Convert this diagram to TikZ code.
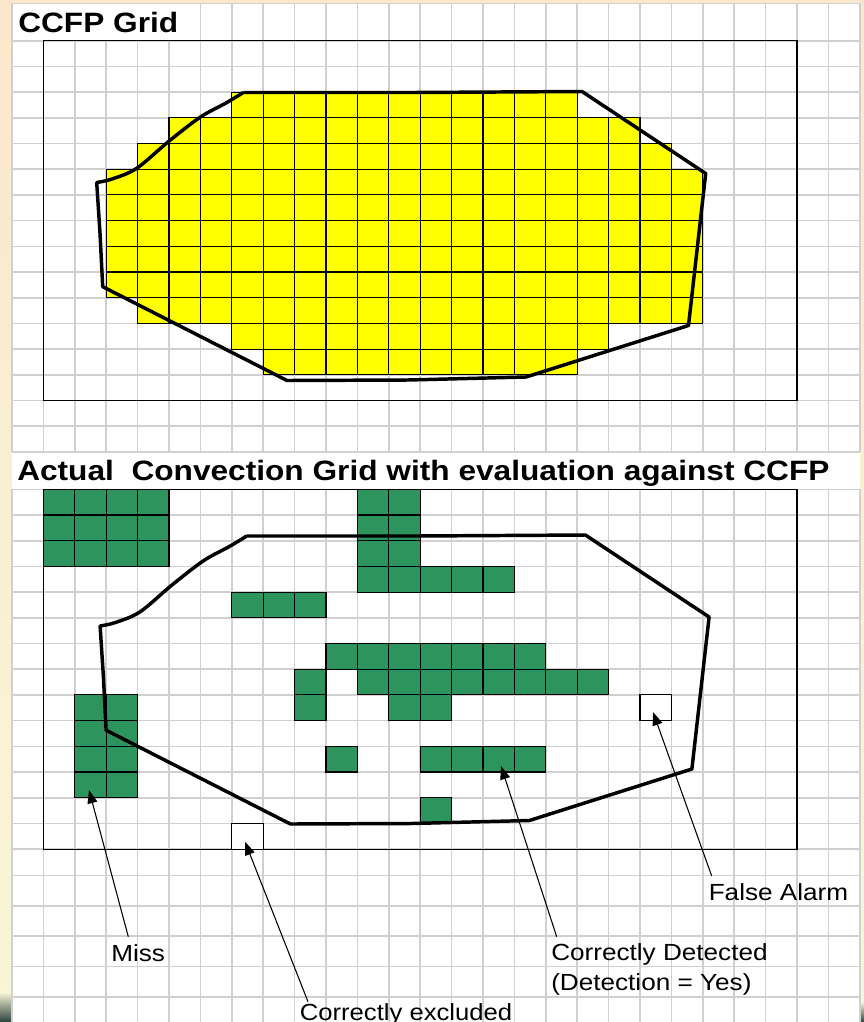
\documentclass[tikz,border=0pt]{standalone}
\usepackage{fontspec}
\setmainfont{Liberation Sans}
\usetikzlibrary{arrows.meta}

\definecolor{gridgray}{RGB}{208,208,208}
\definecolor{cellyellow}{RGB}{255,255,0}
\definecolor{cellgreen}{RGB}{46,148,94}
\definecolor{edgepeach}{RGB}{251,232,204}
\definecolor{edgecream}{RGB}{248,246,214}
\definecolor{edgedark}{RGB}{44,66,62}

% horizontally widened text, as the slide font is set
\newcommand{\widetext}[2][1.12]{\scalebox{#1}[1]{#2}}

\begin{document}
\begin{tikzpicture}[x=0.75pt,y=-0.75pt,
  gridline/.style={draw=gridgray,line width=1.2pt},
  frame/.style={draw=black,line width=1.1pt},
  ycell/.style={fill=cellyellow,draw=black,line width=0.8pt},
  gcell/.style={fill=cellgreen,draw=black,line width=0.8pt},
  wcell/.style={fill=white,draw=black,line width=0.8pt},
  outline/.style={draw=black,line width=2.6pt,line join=round},
  pointer/.style={draw=black,line width=0.8pt,-{Triangle[length=10pt,width=7.5pt]}},
  heading/.style={font=\bfseries\fontsize{21pt}{25pt}\selectfont,inner sep=0pt,anchor=base west},
  lbl/.style={font=\fontsize{17.5pt}{23pt}\selectfont,inner sep=0pt,anchor=base west},
  ccfp/.pic={
    \draw[outline] (243.3,92.5) -- (413,92.5) -- (582,91.5) -- (705.7,173.5)
      -- (688.5,325.5) -- (526,377) -- (408,380) -- (287,380.5)
      -- (102.7,286.7) -- (100,233) -- (96.7,182.5)
      -- plot[smooth,tension=0.55] coordinates {(96.7,182.5) (112,179) (136.7,168.3)
         (168.3,141.7) (200,117.3) (226,103) (243.3,92.5)};
  }
]
\useasboundingbox (0,0) rectangle (864,1022);

% slide background and paper
\shade[top color=edgepeach,bottom color=edgecream] (0,0) rectangle (864,1022);
\shade[top color=edgecream,bottom color=edgedark] (0,992) rectangle (12,1022);
\shade[top color=edgecream,bottom color=edgedark] (860,1002) rectangle (864,1022);
\fill[white] (12,3.3) rectangle (860,1022);

% background grid paper
\foreach \k in {0,...,27}{
  \draw[gridline] (12+31.4*\k,40.7) -- (12+31.4*\k,451.7);
  \draw[gridline] (12+31.4*\k,489.3) -- (12+31.4*\k,1022);
}
\foreach \k in {0,6,7,...,27}{
  \draw[gridline] (12+31.4*\k,3.3) -- (12+31.4*\k,40.7);
}
\foreach \j in {0,...,16}{
  \draw[gridline] (12,40.7+25.7*\j) -- (860,40.7+25.7*\j);
}
\foreach \j in {0,...,14}{
  \draw[gridline] (12,489.3+25.7*\j) -- (860,489.3+25.7*\j);
}
\foreach \yy in {3.3,875.5,905.7,936,966.3,996.7}{
  \draw[gridline] (12,\yy) -- (860,\yy);
}

% headings
\node[heading] (topTitle) at (18,32.7) {\widetext[1.13]{CCFP Grid}};
\node[heading] (lowTitle) at (17,480) {\widetext[1.13]{Actual\ \ Convection Grid with evaluation against CCFP}};

% domain frames
\draw[frame] (43.4,40.7) rectangle (797,400.7);
\draw[frame] (43.4,489.3) rectangle (797,849.3);

% CCFP forecast cells
\foreach \r/\a/\b in {2/6/16,3/4/18,4/3/19,5/2/20,6/2/20,7/2/20,8/2/20,9/2/20,10/3/20,11/6/17,12/7/16}{
  \foreach \c in {\a,...,\b}{
    \path[ycell] (43.4+31.4*\c,40.7+25.7*\r) rectangle ++(31.4,25.7);
  }
}
\pic at (0,0) {ccfp};

% observed convection cells
\foreach \r/\a/\b in {0/0/3,1/0/3,2/0/3,0/10/11,1/10/11,2/10/11,3/10/14,4/6/8,
                      6/9/15,7/8/8,7/10/17,8/1/2,8/8/8,8/11/12,9/1/2,
                      10/1/2,10/9/9,10/12/15,11/1/2,12/12/12}{
  \foreach \c in {\a,...,\b}{
    \path[gcell] (43.4+31.4*\c,489.3+25.7*\r) rectangle ++(31.4,25.7);
  }
}
\path[wcell] (43.4+31.4*6,489.3+25.7*13) rectangle ++(31.4,25.7);
\path[wcell] (43.4+31.4*19,489.3+25.7*8) rectangle ++(31.4,25.7);
\pic at (3.4,443.5) {ccfp};

% category labels
\node[lbl] (miss) at (111,961) {\widetext{Miss}};
\node[lbl] (excluded) at (299.5,1020.5) {\widetext[1.1]{Correctly excluded}};
\node[lbl] (detected) at (551,960) {\widetext{Correctly Detected}};
\node[lbl] (detectedYes) at (551,990.7) {\widetext{(Detection = Yes)}};
\node[lbl] (falseAlarm) at (708.5,900) {\widetext{False Alarm}};

% arrow ends
\coordinate (missTail) at (128.3,936.7);
\coordinate (missTip) at (89,790);
\coordinate (exclTail) at (308,1001.7);
\coordinate (exclTip) at (245,841.7);
\coordinate (detTail) at (556.7,936.7);
\coordinate (detTip) at (501,766);
\coordinate (faTail) at (711.7,876);
\coordinate (faTip) at (653,712);

\draw[pointer] (missTail) -- (missTip);
\draw[pointer] (exclTail) -- (exclTip);
\draw[pointer] (detTail) -- (detTip);
\draw[pointer] (faTail) -- (faTip);
\end{tikzpicture}
\end{document}
